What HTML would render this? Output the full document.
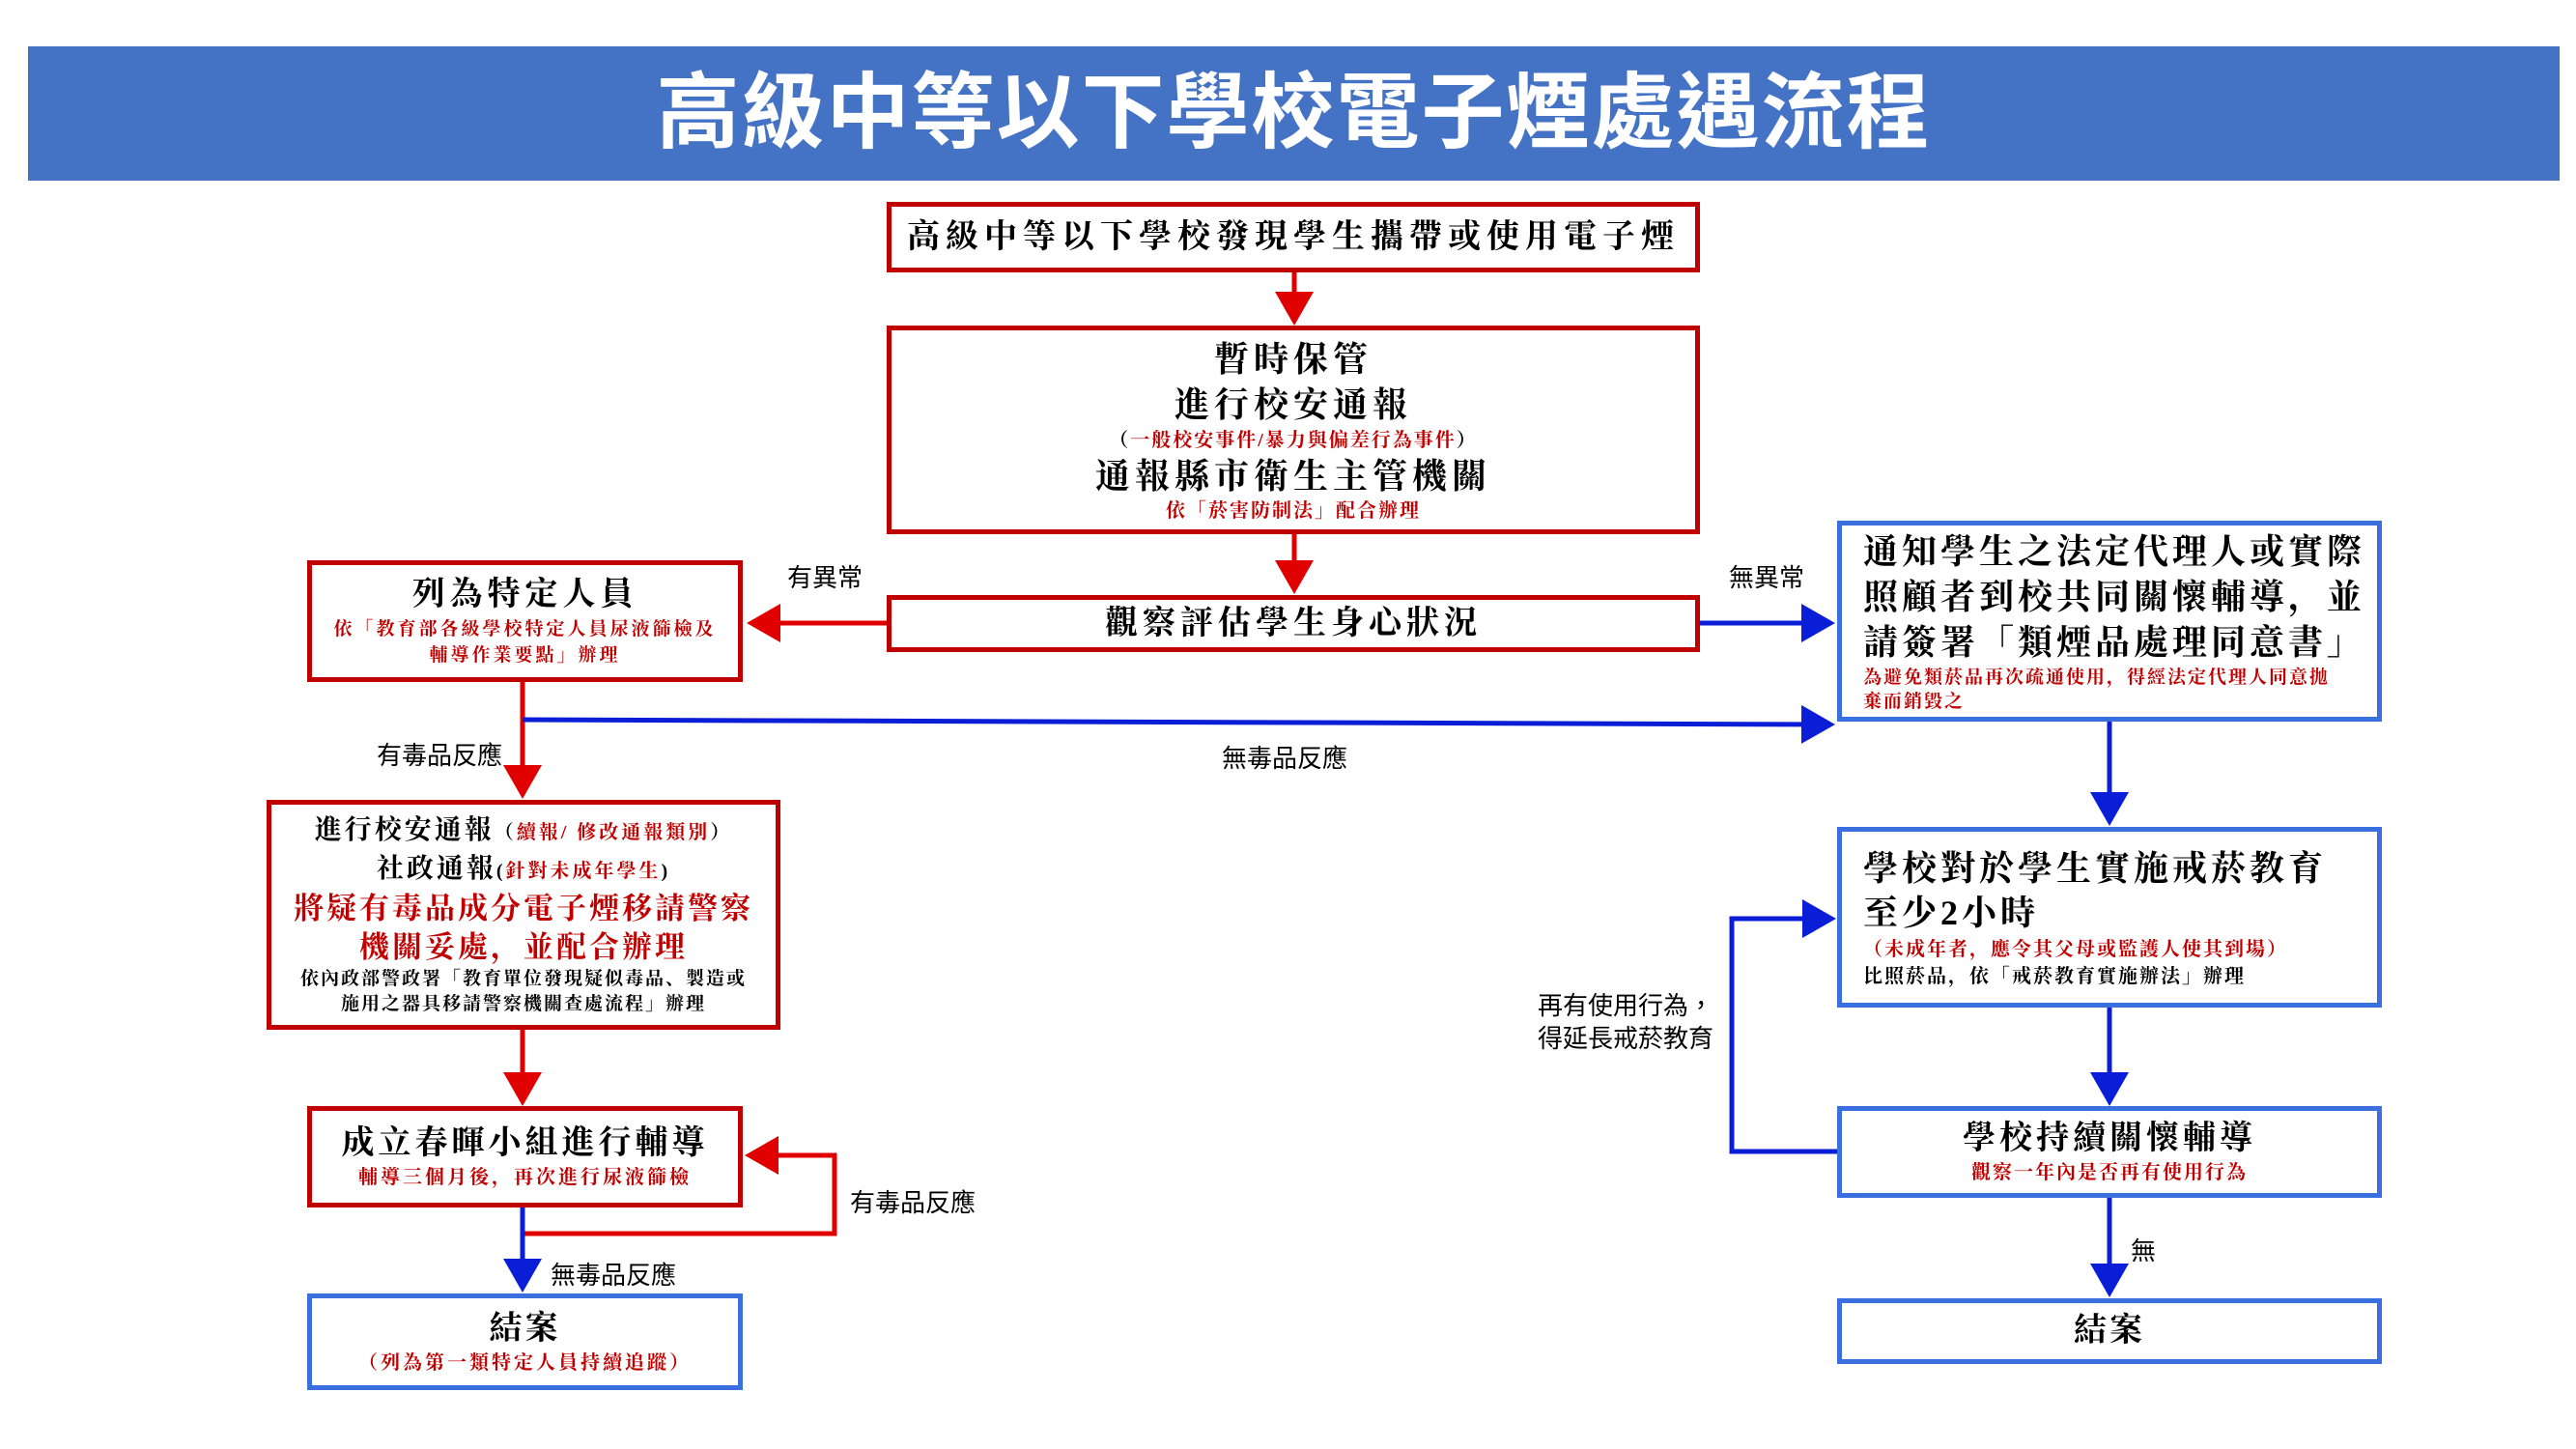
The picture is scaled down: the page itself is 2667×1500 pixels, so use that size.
<!DOCTYPE html>
<html><head><meta charset="utf-8"><style>
html,body{margin:0;padding:0;background:#fff;}
body{width:2667px;height:1500px;position:relative;overflow:hidden;font-family:"Liberation Serif","Noto Serif CJK SC","Noto Sans CJK TC",serif;}
.t{position:absolute;left:29px;top:48px;width:2621px;height:139px;background:#4472C4;color:#fff;font-family:"Liberation Sans","Noto Sans CJK TC",sans-serif;font-weight:bold;font-size:86px;line-height:139px;text-align:center;letter-spacing:2px;}
.b{position:absolute;box-sizing:border-box;background:#fff;text-align:center;font-weight:bold;color:#000;display:flex;flex-direction:column;justify-content:center;letter-spacing:3px;}
.r{border:5px solid #C00000;}
.u{border:5px solid #3A6FE0;}
.big{font-size:34px;line-height:44px;}
.sm{font-size:20px;line-height:27px;color:#C00000;letter-spacing:2px;}
.lab{position:absolute;font-family:"Liberation Sans","Noto Sans CJK TC",sans-serif;font-size:26px;color:#000;white-space:nowrap;}
.red{color:#C00000;}
</style></head><body>
<div class="t">高級中等以下學校電子煙處遇流程</div>

<svg width="2667" height="1500" style="position:absolute;left:0;top:0">
<defs>
<marker id="ar" markerWidth="8" markerHeight="8" refX="6" refY="4" orient="auto" markerUnits="strokeWidth"><path d="M0,0 L7,4 L0,8 Z" fill="#E00000"/></marker>
<marker id="ab" markerWidth="8" markerHeight="8" refX="6" refY="4" orient="auto" markerUnits="strokeWidth"><path d="M0,0 L7,4 L0,8 Z" fill="#0A1ED8"/></marker>
</defs>
<g fill="none" stroke-width="5">
<line x1="1340" y1="282" x2="1340" y2="332" stroke="#E00000" marker-end="url(#ar)"/>
<line x1="1340" y1="553" x2="1340" y2="610" stroke="#E00000" marker-end="url(#ar)"/>
<line x1="918" y1="645" x2="778" y2="645" stroke="#E00000" marker-end="url(#ar)"/>
<line x1="1760" y1="645" x2="1895" y2="645" stroke="#0A1ED8" marker-end="url(#ab)"/>
<line x1="541" y1="706" x2="541" y2="822" stroke="#E00000" marker-end="url(#ar)"/>
<polyline points="541,745 1895,750" stroke="#0A1ED8" marker-end="url(#ab)"/>
<line x1="541" y1="1066" x2="541" y2="1140" stroke="#E00000" marker-end="url(#ar)"/>
<polyline points="541,1277 864,1277 864,1196 776,1196" stroke="#E00000" marker-end="url(#ar)"/>
<line x1="541" y1="1250" x2="541" y2="1333" stroke="#0A1ED8" marker-end="url(#ab)"/>
<line x1="2184" y1="747" x2="2184" y2="850" stroke="#0A1ED8" marker-end="url(#ab)"/>
<line x1="2184" y1="1043" x2="2184" y2="1140" stroke="#0A1ED8" marker-end="url(#ab)"/>
<polyline points="1902,1192 1793,1192 1793,951 1896,951" stroke="#0A1ED8" marker-end="url(#ab)"/>
<line x1="2184" y1="1240" x2="2184" y2="1338" stroke="#0A1ED8" marker-end="url(#ab)"/>
</g>
</svg>

<div class="b r big" style="left:918px;top:209px;width:842px;height:73px;letter-spacing:6px;">高級中等以下學校發現學生攜帶或使用電子煙</div>
<div class="b r" style="left:918px;top:337px;width:842px;height:216px;">
<div class="big" style="font-size:36px;line-height:48px;letter-spacing:5px">暫時保管</div>
<div class="big" style="font-size:36px;line-height:46px;letter-spacing:5px">進行校安通報</div>
<div class="sm" style="font-size:20px;line-height:28px;color:#000">（<span class="red">一般校安事件/暴力與偏差行為事件</span>）</div>
<div class="big" style="font-size:36px;line-height:46px;letter-spacing:5px">通報縣市衛生主管機關</div>
<div class="sm" style="font-size:20px">依「菸害防制法」配合辦理</div>
</div>
<div class="b r big" style="left:918px;top:616px;width:842px;height:59px;letter-spacing:5px;">觀察評估學生身心狀況</div>

<div class="b r" style="left:318px;top:580px;width:451px;height:126px;">
<div class="big" style="letter-spacing:5px">列為特定人員</div>
<div class="sm" style="font-size:19px;letter-spacing:3px">依「教育部各級學校特定人員尿液篩檢及<br>輔導作業要點」辦理</div>
</div>

<div class="b r" style="left:276px;top:828px;width:532px;height:238px;padding:0 6px;">
<div style="font-size:28px;line-height:38px">進行校安通報<span style="font-size:20px">（<span class="red">續報/ 修改通報類別</span>）</span></div>
<div style="font-size:28px;line-height:38px">社政通報<span style="font-size:20px">(<span class="red">針對未成年學生</span>)</span></div>
<div class="red" style="font-size:31px;line-height:40px;letter-spacing:3px">將疑有毒品成分電子煙移請警察<br>機關妥處，並配合辦理</div>
<div style="font-size:19px;line-height:26px;letter-spacing:2px">依內政部警政署「教育單位發現疑似毒品、製造或<br>施用之器具移請警察機關查處流程」辦理</div>
</div>

<div class="b r" style="left:318px;top:1145px;width:451px;height:105px;">
<div class="big" style="letter-spacing:4px">成立春暉小組進行輔導</div>
<div class="sm" style="letter-spacing:3px">輔導三個月後，再次進行尿液篩檢</div>
</div>
<div class="b u" style="left:318px;top:1339px;width:451px;height:100px;">
<div class="big">結案</div>
<div class="sm" style="font-size:20px;letter-spacing:3px">（列為第一類特定人員持續追蹤）</div>
</div>

<div class="b u" style="left:1902px;top:539px;width:564px;height:208px;text-align:left;padding-left:22px;padding-right:6px;">
<div style="font-size:36px;line-height:47px;letter-spacing:4px">通知學生之法定代理人或實際<br>照顧者到校共同關懷輔導，並<br>請簽署「類煙品處理同意書」</div>
<div class="sm" style="font-size:19px;line-height:25px;letter-spacing:2px">為避免類菸品再次疏通使用，得經法定代理人同意拋<br>棄而銷毀之</div>
</div>
<div class="b u" style="left:1902px;top:856px;width:564px;height:187px;text-align:left;padding-left:22px;padding-right:6px;">
<div style="font-size:36px;line-height:46px;letter-spacing:4px">學校對於學生實施戒菸教育<br>至少2小時</div>
<div class="sm" style="font-size:20px;line-height:30px">（未成年者，應令其父母或監護人使其到場）</div>
<div style="font-size:20px;line-height:26px;letter-spacing:2px">比照菸品，依「戒菸教育實施辦法」辦理</div>
</div>
<div class="b u" style="left:1902px;top:1145px;width:564px;height:95px;">
<div class="big" style="letter-spacing:4px">學校持續關懷輔導</div>
<div class="sm">觀察一年內是否再有使用行為</div>
</div>
<div class="b u big" style="left:1902px;top:1344px;width:564px;height:68px;">結案</div>

<div class="lab" style="left:815px;top:578px;">有異常</div>
<div class="lab" style="left:1790px;top:578px;">無異常</div>
<div class="lab" style="left:390px;top:762px;">有毒品反應</div>
<div class="lab" style="left:1265px;top:765px;">無毒品反應</div>
<div class="lab" style="left:880px;top:1225px;">有毒品反應</div>
<div class="lab" style="left:570px;top:1300px;">無毒品反應</div>
<div class="lab" style="left:1592px;top:1024px;line-height:34px;">再有使用行為，<br>得延長戒菸教育</div>
<div class="lab" style="left:2206px;top:1275px;">無</div>
</body></html>
